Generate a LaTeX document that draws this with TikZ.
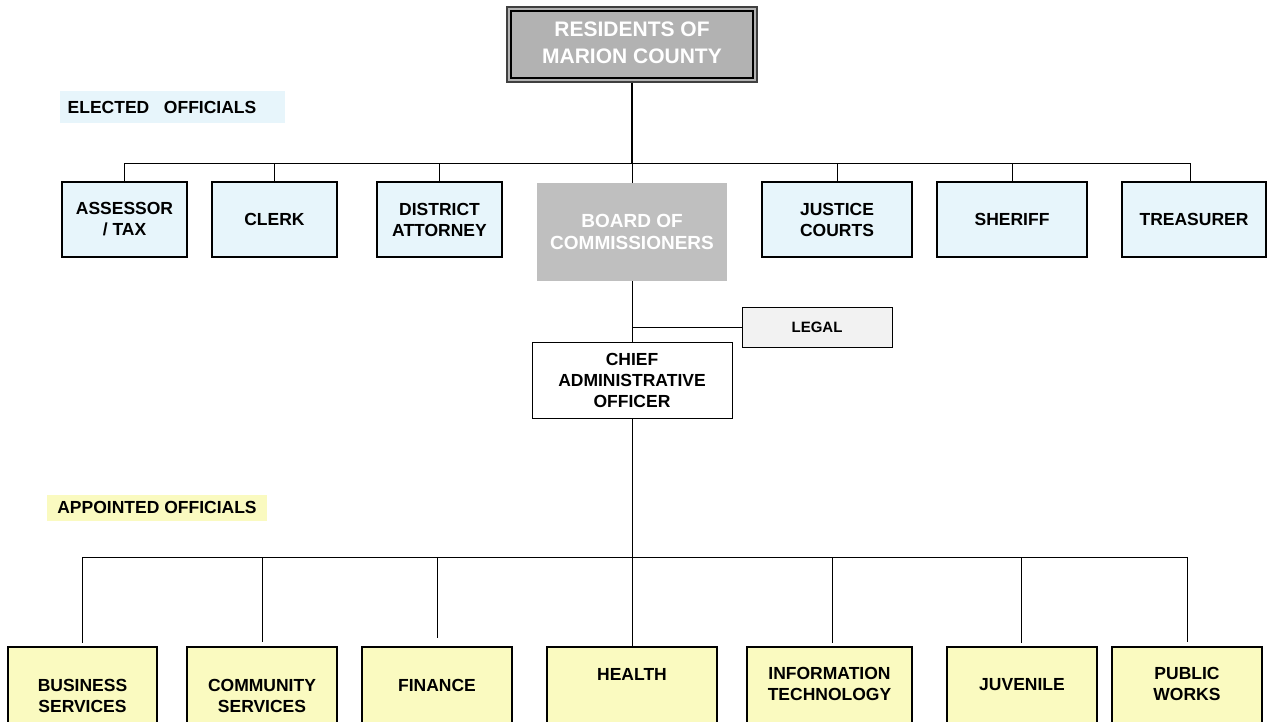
\documentclass[tikz,border=0pt]{standalone}
\usepackage{fontspec}
\setmainfont{Liberation Sans}
\definecolor{elblue}{RGB}{231,245,251}
\definecolor{apyel}{RGB}{250,250,192}
\definecolor{resgray}{RGB}{178,178,178}
\definecolor{bdgray}{RGB}{191,191,191}
\definecolor{lggray}{RGB}{242,242,242}
\tikzset{
  txt/.style={font=\fontsize{17.5}{21}\selectfont\bfseries, align=center, inner sep=0pt},
  elbox/.style={draw=black, line width=1.1pt, fill=elblue, inner sep=0pt, minimum height=75pt, txt},
  apbox/.style={draw=black, line width=1.1pt, fill=apyel, inner sep=0pt, minimum height=95pt},
  conn/.style={line width=0.9pt, black},
}
\begin{document}
\begin{tikzpicture}[x=1pt, y=-1pt]
\useasboundingbox (0,0) rectangle (1280,721);
\clip (0,0) rectangle (1280,721);
% Residents
\node[draw=black!75, line width=1.3pt, fill=resgray, minimum width=250pt, minimum height=75pt, inner sep=0pt] (res) at (632,44.5) {};
\node[draw=black, line width=1.1pt, minimum width=242pt, minimum height=67pt, inner sep=0pt] (resin) at (632,44.5) {};
\node[font=\fontsize{21}{27}\selectfont\bfseries, text=white, align=center] (restxt) at (632,42.5) {RESIDENTS OF\\MARION COUNTY};
% labels
\node[fill=elblue, minimum width=225pt, minimum height=32pt, inner sep=0pt] (elbg) at (172.5,107) {};
\node[txt] (eltxt) at (162,107) {ELECTED\ \ \ OFFICIALS};
\node[fill=apyel, minimum width=220pt, minimum height=26pt, inner sep=0pt] (apbg) at (157,508) {};
\node[txt] (aptxt) at (157,507) {APPOINTED OFFICIALS};
% elected row
\node[elbox, minimum width=125pt] (as) at (124.5,219.5) {ASSESSOR\\/ TAX};
\node[elbox, minimum width=125pt] (cl) at (274.5,219.5) {CLERK};
\node[elbox, minimum width=125pt] (da) at (439.5,219.5) {DISTRICT\\ATTORNEY};
\node[fill=bdgray, minimum width=190pt, minimum height=98pt, inner sep=0pt, font=\fontsize{19}{21.5}\selectfont\bfseries, text=white, align=center] (bd) at (632,232) {BOARD OF\\COMMISSIONERS};
\node[elbox, minimum width=150pt] (jc) at (837,219.5) {JUSTICE\\COURTS};
\node[elbox, minimum width=150pt] (sh) at (1012,219.5) {SHERIFF};
\node[elbox, minimum width=144pt] (tr) at (1194,219.5) {TREASURER};
% legal and CAO
\node[draw=black, line width=1pt, fill=lggray, minimum width=150pt, minimum height=40pt, inner sep=0pt, font=\fontsize{15}{18}\selectfont\bfseries] (lg) at (817,327) {LEGAL};
\node[draw=black, line width=1pt, fill=white, minimum width=200pt, minimum height=76pt, inner sep=0pt, txt] (cao) at (632,380) {CHIEF\\ADMINISTRATIVE\\OFFICER};
% appointed row
\node[apbox, minimum width=149pt] (bs) at (82.5,694.5) {};
\node[apbox, minimum width=150pt] (cs) at (262,694.5) {};
\node[apbox, minimum width=150pt] (fi) at (437,694.5) {};
\node[apbox, minimum width=170pt] (he) at (632,694.5) {};
\node[apbox, minimum width=165pt] (it) at (829.5,694.5) {};
\node[apbox, minimum width=150pt] (ju) at (1022,694.5) {};
\node[apbox, minimum width=150pt] (pw) at (1187,694.5) {};
\node[txt] (bst) at (82.5,696) {BUSINESS\\SERVICES};
\node[txt] (cst) at (262,696) {COMMUNITY\\SERVICES};
\node[txt] (fit) at (437,685) {FINANCE};
\node[txt] (het) at (632,674) {HEALTH};
\node[txt] (itt) at (829.5,684) {INFORMATION\\TECHNOLOGY};
\node[txt] (jut) at (1022,685) {JUVENILE};
\node[txt] (pwt) at (1187,684) {PUBLIC\\WORKS};
% elected connectors
\coordinate (eb) at (632,163);
\draw[line width=1.6pt] (res.south) -- (eb);
\draw[conn] (eb) -- (bd.north);
\draw[conn] (as.north) |- (eb);
\draw[conn] (eb) -- (1190,163) -- (1190,182);
\foreach \n in {cl,da,jc,sh} \draw[conn] (\n.north) -- (\n.north |- eb);
% board to cao
\draw[conn] (bd.south) -- (cao.north);
\draw[conn] (lg.west) -- (lg.west -| cao.north);
% appointed connectors
\coordinate (ab) at (632,557);
\draw[conn] (cao.south) -- (he.north);
\coordinate (abl) at (82.5,557);
\coordinate (abr) at (1187,557);
\draw[conn] (abl) -- (abr);
\draw[conn, shorten >=3pt] (abl) -- (bs.north);
\draw[conn, shorten >=4pt] (cs.north |- ab) -- (cs.north);
\draw[conn, shorten >=8pt] (fi.north |- ab) -- (fi.north);
\draw[conn, shorten >=4pt] (832,557) -- (832,647);
\draw[conn, shorten >=4pt] (1021,557) -- (1021,647);
\draw[conn, shorten >=4pt] (abr) -- (pw.north);
\end{tikzpicture}
\end{document}
